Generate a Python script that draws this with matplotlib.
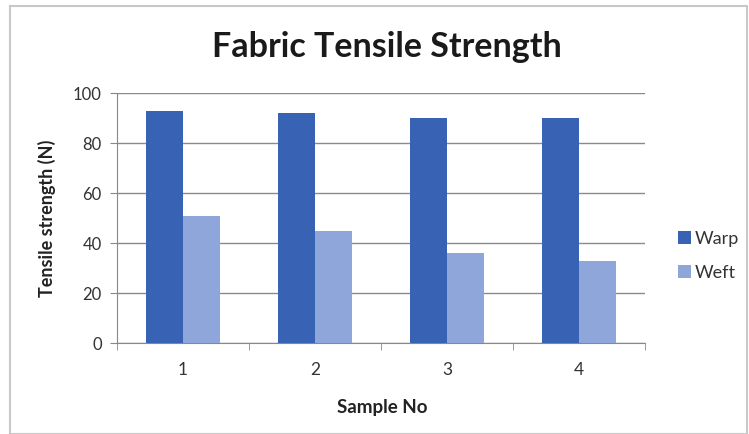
import numpy as np
import matplotlib.pyplot as plt
from matplotlib.patches import Rectangle

samples = ['1', '2', '3', '4']
warp = [93, 92, 90, 90]
weft = [51, 45, 36, 33]

plt.rcParams['font.family'] = ['Lato', 'DejaVu Sans']

fig = plt.figure(figsize=(7.49, 4.34), dpi=100)
W, H = 749, 434
# plot area in pixels: x 117..645, y 93..343
ax = fig.add_axes([117 / W, 1 - 343 / H, 528 / W, 250 / H])

x = np.arange(len(samples))
w = 0.28
ax.bar(x - w / 2, warp, width=w, color='#3862B3', label='Warp', zorder=3)
ax.bar(x + w / 2, weft, width=w, color='#8FA6DB', label='Weft', zorder=3)

ax.set_xlim(-0.5, 3.5)
ax.set_ylim(0, 100)
ax.set_yticks(range(0, 101, 20))
ax.set_xticks(x)
ax.set_xticklabels(samples)
ax.set_xticks(np.arange(-0.5, 3.6, 1), minor=True)
ax.tick_params(axis='x', which='major', length=0, pad=14, labelsize=12.5, colors='#333333')
ax.tick_params(axis='x', which='minor', length=5, color='#888888')
ax.tick_params(axis='y', length=5, color='#888888', labelsize=12, labelcolor='#333333', pad=6)
ax.grid(axis='y', color='#8a8a8a', linewidth=1, zorder=0)
for s in ['top', 'right']:
    ax.spines[s].set_visible(False)
ax.spines['left'].set_color('#888888')
ax.spines['bottom'].set_color('#888888')

fig.text(47 / W, 1 - 218 / H, 'Tensile strength (N)', fontsize=13, fontweight='bold',
         color='#222222', rotation=90, ha='center', va='center')
fig.text(382 / W, 1 - 407 / H, 'Sample No', fontsize=13.5, fontweight='bold',
         color='#222222', ha='center', va='center')
fig.text(387 / W, 1 - 57 / H, 'Fabric Tensile Strength', fontsize=24.5, fontweight='bold',
         ha='center', va='baseline', color='#1a1a1a')

leg = fig.legend(*ax.get_legend_handles_labels(), loc='center left',
                 bbox_to_anchor=(678 / W, 1 - 256 / H), frameon=False, fontsize=13,
                 handlelength=0.7, handleheight=0.7, handletextpad=0.25, labelspacing=1.0,
                 borderpad=0, borderaxespad=0)
for t in leg.get_texts():
    t.set_color('#333333')

fig.patches.append(Rectangle((10 / W, 0), 737 / W, 1 - 6 / H, transform=fig.transFigure,
                             fill=False, edgecolor='#c8c8c8', linewidth=1.5))

fig.savefig('out.png', dpi=100)
